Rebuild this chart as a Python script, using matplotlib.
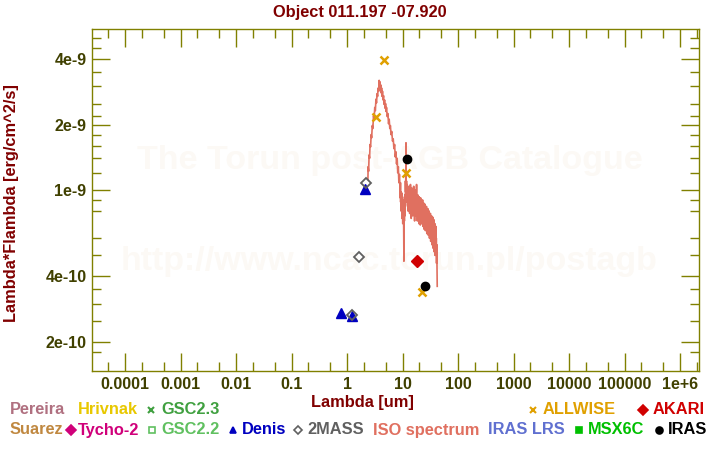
import matplotlib
matplotlib.use("Agg")
import matplotlib.pyplot as plt
from matplotlib.lines import Line2D
from matplotlib.ticker import FixedLocator, FixedFormatter, NullFormatter

plt.rcParams['font.family'] = ['Liberation Sans', 'DejaVu Sans']

# ---------------- data ----------------
title = "Object 011.197 -07.920"

denis_wl = [0.79, 1.22, 2.15]
denis_fl = [2.71e-10, 2.62e-10, 1.01e-9]

tmass_wl = [1.235, 1.662, 2.159]
tmass_fl = [2.65e-10, 4.91e-10, 1.08e-9]

allwise_wl = [3.35, 4.6, 11.56, 22.09]
allwise_fl = [2.17e-9, 3.97e-9, 1.20e-9, 3.39e-10]

akari_wl = [18.0]
akari_fl = [4.71e-10]

iras_wl = [12.0, 25.0]
iras_fl = [1.39e-9, 3.61e-10]

iso_wl = [2.38, 2.40, 2.45, 2.50, 2.55, 2.60, 2.66, 2.72, 2.78, 2.85, 2.92, 3.00,
          3.08, 3.16, 3.24, 3.32, 3.40, 3.48, 3.56, 3.64, 3.72, 3.80, 3.86, 3.92,
          3.98, 4.05, 4.12, 4.20, 4.28, 4.36, 4.45, 4.55, 4.65, 4.75, 4.85, 4.95,
          5.05, 5.15, 5.30, 5.45, 5.60, 5.75, 5.90, 6.05, 6.20, 6.40, 6.60, 6.80,
          7.00, 7.20, 7.40, 7.60, 7.80, 8.00, 8.20, 8.40, 8.60, 8.80,
          9.00, 9.10, 9.18, 9.25, 9.33, 9.42, 9.50, 9.58, 9.66, 9.75, 9.84, 9.92,
          10.0, 10.1, 10.2, 10.3, 10.4, 10.5, 10.6, 10.7, 10.8, 10.9, 11.0, 11.1,
          11.2, 11.3, 11.4, 11.5, 11.55, 11.6, 11.7, 11.8, 11.9, 12.0, 12.1, 12.2,
          12.35, 12.5, 12.6, 12.75, 12.9, 13.0, 13.15, 13.3, 13.45, 13.6, 13.75, 13.9,
          14.05, 14.2, 14.35, 14.5, 14.65, 14.8, 14.95, 15.1, 15.3, 15.5, 15.7, 15.9,
          16.1, 16.3, 16.5, 16.7, 16.9, 17.1, 17.3, 17.5, 17.7, 17.9, 18.1, 18.3,
          18.5, 18.8, 19.1, 19.4, 19.7, 20.0, 20.3, 20.6, 20.9, 21.2, 21.5, 21.8,
          22.1, 22.4, 22.7, 23.0, 23.3, 23.6, 23.9, 24.2, 24.5, 24.8, 25.1, 25.4,
          25.8, 26.2, 26.6, 27.0, 27.4, 27.8, 28.2, 28.6, 29.0, 29.4, 29.8, 30.2,
          30.6, 31.0, 31.4, 31.8, 32.2, 32.6, 33.0, 33.4, 33.8, 34.2, 34.6, 35.0,
          35.4, 35.8, 36.2, 36.6, 37.0, 37.4, 37.8, 38.2, 38.6, 39.0, 39.4, 39.8,
          40.2, 40.6, 41.0, 41.4, 41.8, 42.2]
iso_fl = [1.12, 1.28, 1.22, 1.45, 1.40, 1.62, 1.58, 1.80, 1.74, 1.98, 1.92, 2.20,
          2.12, 2.40, 2.32, 2.62, 2.52, 2.78, 2.70, 2.95, 2.85, 3.20, 2.95, 3.15,
          2.90, 3.05, 2.80, 2.95, 2.70, 2.85, 2.60, 2.72, 2.48, 2.60, 2.38, 2.50,
          2.30, 2.40, 2.18, 2.25, 2.02, 2.12, 1.92, 1.98, 1.80, 1.86, 1.68, 1.72,
          1.55, 1.62, 1.42, 1.50, 1.32, 1.40, 1.20, 1.28, 1.08, 1.18,
          1.02, 0.92, 1.08, 0.88, 0.98, 0.80, 0.95, 0.86, 0.97, 0.74, 0.90, 0.82,
          0.93, 0.70, 0.86, 0.78, 0.90, 0.62, 0.47, 0.84, 0.72, 0.88, 0.76, 0.95,
          0.85, 1.10, 0.98, 1.30, 1.65, 1.15, 1.02, 1.10, 0.92, 1.06, 0.88, 1.00,
          0.84, 0.98, 0.80, 0.93, 0.86, 1.04, 0.82, 0.96, 0.78, 1.00, 0.86, 1.06,
          0.80, 0.92, 0.74, 0.97, 0.84, 1.02, 0.79, 0.90, 0.76, 0.98, 0.83, 1.04,
          0.78, 0.94, 0.72, 0.90, 0.80, 1.00, 0.76, 0.92, 0.84, 1.06, 0.77, 0.88,
          0.72, 0.95, 0.78, 0.90, 0.70, 0.93, 0.76, 0.86, 0.69, 0.92, 0.78, 0.88,
          0.70, 0.84, 0.74, 0.90, 0.68, 0.82, 0.72, 0.87, 0.66, 0.80, 0.70, 0.86,
          0.65, 0.80, 0.69, 0.84, 0.63, 0.78, 0.67, 0.82, 0.62, 0.76, 0.66, 0.80,
          0.60, 0.74, 0.64, 0.78, 0.58, 0.72, 0.62, 0.76, 0.56, 0.70, 0.60, 0.75,
          0.54, 0.68, 0.58, 0.73, 0.52, 0.66, 0.56, 0.70, 0.50, 0.64, 0.55, 0.68,
          0.50, 0.60, 0.46, 0.56, 0.42, 0.36]
iso_fl = [v * 1e-9 for v in iso_fl]

x_major = [1e-4, 1e-3, 1e-2, 1e-1, 1, 10, 100, 1000, 1e4, 1e5, 1e6]
x_labels = ["0.0001", "0.001", "0.01", "0.1", "1", "10", "100", "1000",
            "10000", "100000", "1e+6"]
y_major = [2e-10, 4e-10, 1e-9, 2e-9, 4e-9]
y_labels = ["2e-10", "4e-10", "1e-9", "2e-9", "4e-9"]
y_minor = [1.8e-10, 2.5e-10, 3e-10, 3.5e-10, 5e-10, 6e-10, 8e-10, 9e-10,
           1.2e-9, 1.4e-9, 1.6e-9, 1.8e-9, 2.2e-9, 2.5e-9, 3e-9, 3.5e-9,
           4.5e-9, 5e-9]

# ---------------- styling ----------------
W, H = 720, 450
fig = plt.figure(figsize=(7.2, 4.5), dpi=100)
fig.patch.set_facecolor('white')
ax = fig.add_axes([92 / W, 1 - 371 / H, 607 / W, 342 / H])
ax.set_xscale('log')
ax.set_yscale('log')
ax.set_xlim(10 ** -4.595, 10 ** 6.342)
ax.set_ylim(10 ** -9.8337, 10 ** -8.2584)

olive = '#808000'
tickc = '#404000'
dark_red = '#800000'
FS = 11.8

for s in ax.spines.values():
    s.set_color(olive)
    s.set_linewidth(1.0)

ax.xaxis.set_major_locator(FixedLocator(x_major))
ax.xaxis.set_major_formatter(FixedFormatter(x_labels))
x_minor = []
for d in range(-5, 7):
    for m in (2, 5):
        x_minor.append(m * 10.0 ** d)
ax.xaxis.set_minor_locator(FixedLocator(x_minor))
ax.xaxis.set_minor_formatter(NullFormatter())
ax.yaxis.set_major_locator(FixedLocator(y_major))
ax.yaxis.set_major_formatter(FixedFormatter(y_labels))
ax.yaxis.set_minor_locator(FixedLocator(y_minor))
ax.yaxis.set_minor_formatter(NullFormatter())

ax.tick_params(which='both', direction='in', top=True, right=True, color=olive, width=1.0)
ax.tick_params(which='major', length=13, pad=4, labelsize=11.5, labelcolor=tickc)
ax.tick_params(which='minor', length=6.5)
for lab in ax.get_xticklabels() + ax.get_yticklabels():
    lab.set_fontweight('bold')

# watermark
ax.text(0.49, 0.615, "The Torun post-AGB Catalogue", transform=ax.transAxes,
        ha='center', va='center', fontsize=24.5, fontweight='bold',
        color='#fcf9f5', zorder=0)
ax.text(0.49, 0.32, "http://www.ncac.torun.pl/postagb", transform=ax.transAxes,
        ha='center', va='center', fontsize=24.5, fontweight='bold',
        color='#fcf9f5', zorder=0)

# spectrum
ax.plot(iso_wl, iso_fl, color='#e07060', lw=1.2, zorder=2)

# photometry
ax.plot(denis_wl, denis_fl, ls='none', marker='^', ms=6.5, color='#0000c0',
        mec='#0000c0', zorder=4)
ax.plot(tmass_wl, tmass_fl, ls='none', marker='D', ms=5, mfc='none',
        mec='#606060', mew=1.3, zorder=5)
ax.plot(allwise_wl, allwise_fl, ls='none', marker='x', ms=5.5, mew=1.8,
        color='#e0a000', zorder=5)
ax.plot(akari_wl, akari_fl, ls='none', marker='D', ms=6, color='#d00000', zorder=5)
ax.plot(iras_wl, iras_fl, ls='none', marker='o', ms=6, color='black', zorder=5)

# titles
fig.text(360 / W, 1 - 12 / H, title, ha='center', va='center', fontsize=FS,
         fontweight='bold', color=dark_red)
fig.text(362 / W, 1 - 403 / H, "Lambda [um]", ha='center', va='center',
         fontsize=FS, fontweight='bold', color=dark_red)
fig.text(12 / W, 1 - 203 / H, "Lambda*Flambda [erg/cm^2/s]", ha='center',
         va='center', rotation=90, fontsize=FS, fontweight='bold', color=dark_red)

# legend texts
def ltext(x, y, s, c):
    fig.text(x / W, 1 - y / H, s, ha='left', va='center', fontsize=FS,
             fontweight='bold', color=c)

def lmark(x, y, m, c, ms=5, filled=True, mew=1.2):
    fig.add_artist(Line2D([x / W], [1 - y / H], transform=fig.transFigure,
                          marker=m, ms=ms, ls='none',
                          mfc=c if filled else 'none', mec=c, mew=mew))

r1, r2 = 410, 430
ltext(10, r1, "Pereira", '#b07080')
ltext(77.5, r1, "Hrivnak", '#e8c800')
lmark(151, r1, 'x', '#40a040', ms=4.5, mew=1.5)
ltext(161.5, r1, "GSC2.3", '#40a040')
lmark(533, r1, 'x', '#e0a000', ms=5, mew=1.5)
ltext(543, r1, "ALLWISE", '#e0a000')
lmark(643, r1, 'D', '#d00000', ms=5)
ltext(653, r1, "AKARI", '#d00000')

ltext(10, r2, "Suarez", '#c08840')
lmark(71, r2, 'D', '#d0007a', ms=5)
ltext(78, r2, "Tycho-2", '#d0007a')
lmark(152, r2, 's', '#60c060', ms=4.5, filled=False)
ltext(161.5, r2, "GSC2.2", '#60c060')
lmark(233, r2, '^', '#0000c0', ms=5)
ltext(242, r2, "Denis", '#0000c0')
lmark(298, r2, 'D', '#606060', ms=4.5, filled=False)
ltext(307, r2, "2MASS", '#606060')
ltext(373, r2, "ISO spectrum", '#e07060')
ltext(488, r2, "IRAS LRS", '#6070d0')
lmark(579, r2, 's', '#00c000', ms=5)
ltext(588, r2, "MSX6C", '#00c000')
lmark(659, r2, 'o', 'black', ms=5)
ltext(668, r2, "IRAS", 'black')

fig.savefig("out.png", dpi=100)
